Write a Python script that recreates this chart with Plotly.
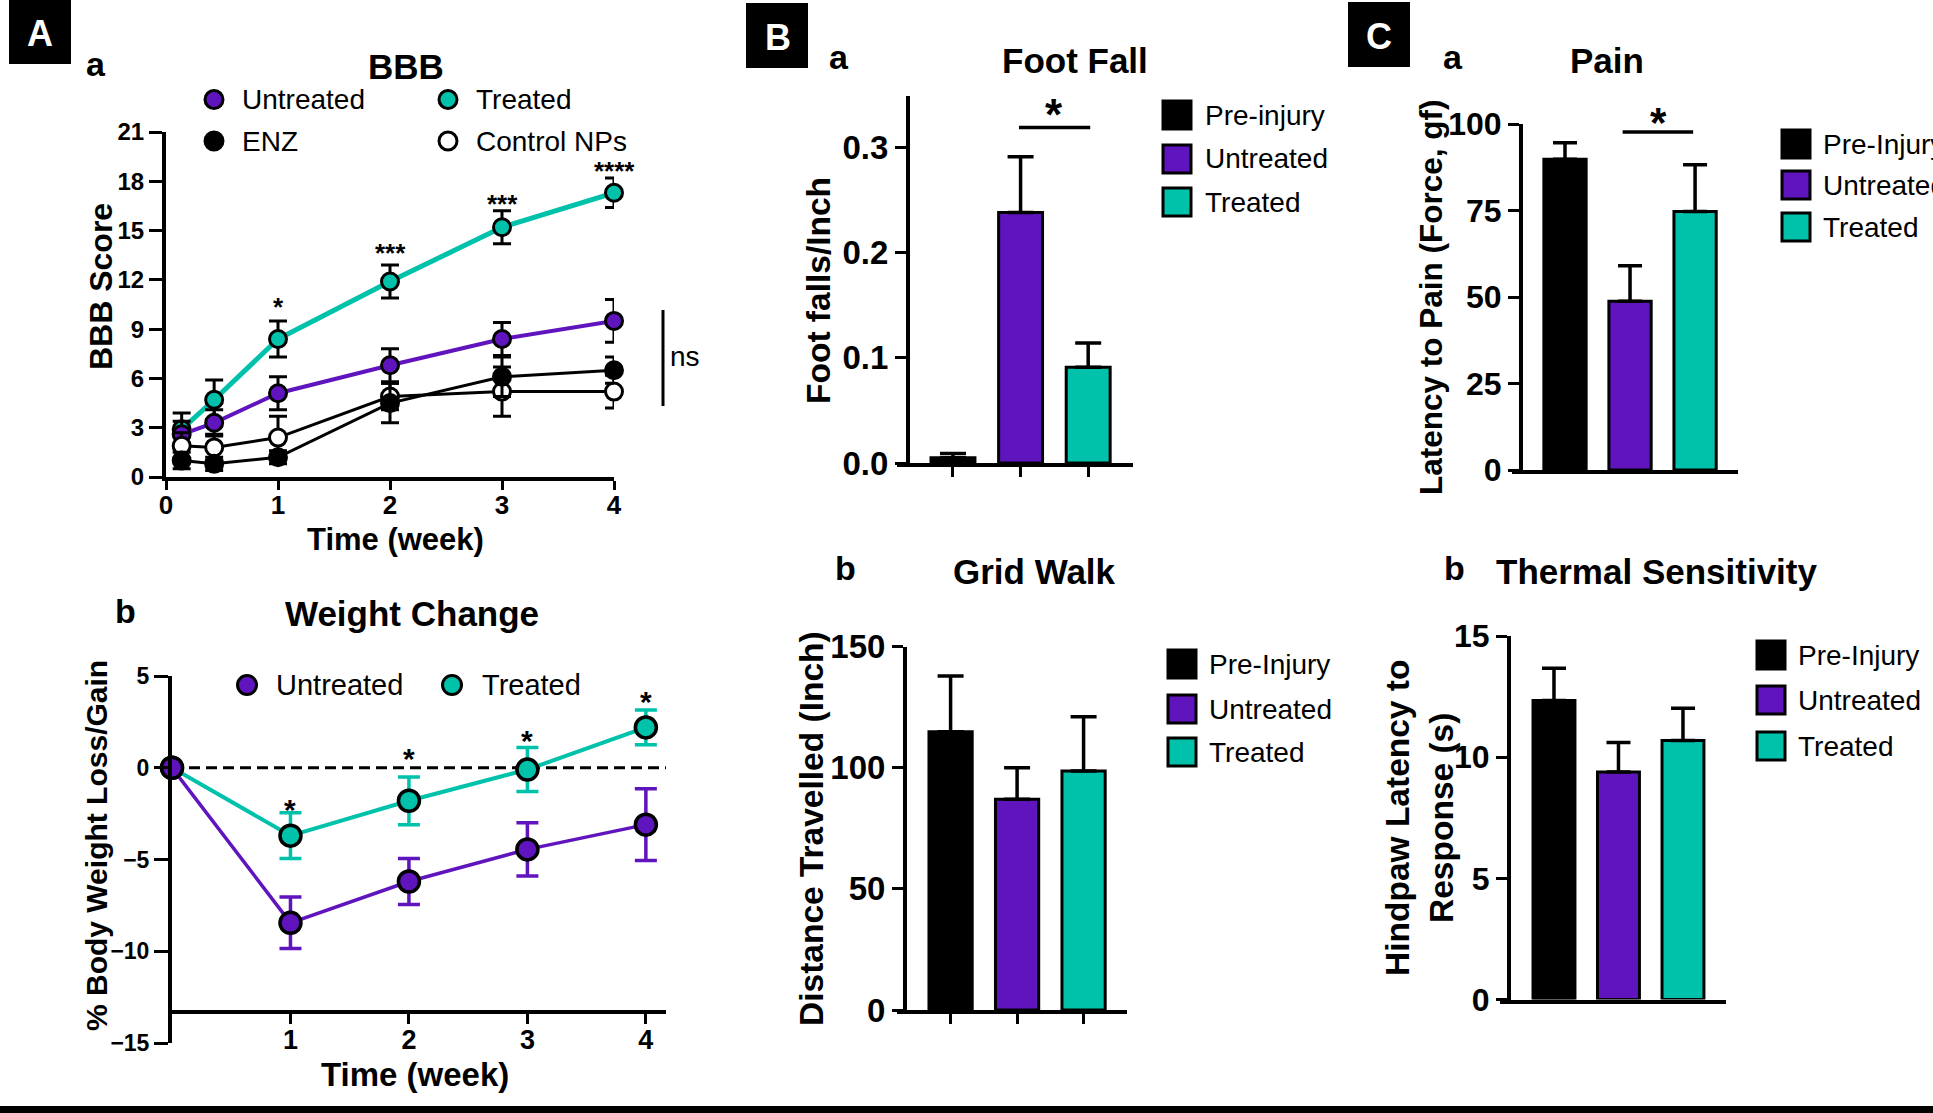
import plotly.graph_objects as go

W, H = 1933, 1113

def px(x):
    return x / W

def py(y):
    return 1 - y / H

PURPLE = "#5F14BD"
TEAL = "#00C2AA"
BLACK = "#000000"
BOLD = "Liberation Sans, Arial, sans-serif"
REG = "Liberation Sans, Arial, sans-serif"

# ---------------- DATA ----------------
# A-a  BBB score
bbb_weeks = [0.14, 0.43, 1, 2, 3, 4]
bbb_treated = [2.9, 4.7, 8.4, 11.9, 15.2, 17.3]
bbb_treated_err = [1.0, 1.2, 1.1, 1.0, 1.0, 0.9]
bbb_untreated = [2.6, 3.3, 5.1, 6.8, 8.4, 9.5]
bbb_untreated_err = [0.8, 0.8, 1.0, 1.0, 1.0, 1.3]
bbb_enz = [1.0, 0.8, 1.2, 4.5, 6.1, 6.5]
bbb_enz_err = [0.5, 0.4, 0.4, 1.2, 1.2, 0.8]
bbb_control = [1.9, 1.8, 2.4, 4.9, 5.2, 5.2]
bbb_control_err = [0.8, 0.8, 1.3, 0.8, 1.5, 1.0]
bbb_star_weeks = [1, 2, 3, 4]
bbb_star_labels = ["*", "***", "***", "****"]
bbb_star_y = [10.7, 14.0, 17.0, 19.0]

# A-b  Weight change
wt_weeks = [0, 1, 2, 3, 4]
wt_untreated = [0, -8.45, -6.2, -4.45, -3.1]
wt_untreated_err = [0, 1.4, 1.25, 1.45, 1.95]
wt_treated = [0, -3.7, -1.8, -0.1, 2.2]
wt_treated_err = [0, 1.25, 1.3, 1.2, 0.95]
wt_star_weeks = [1, 2, 3, 4]
wt_star_y = [-1.9, 0.87, 1.85, 4.0]

# Bar panels
groups_ff = ["Pre-injury", "Untreated", "Treated"]
groups = ["Pre-Injury", "Untreated", "Treated"]
group_colors = [BLACK, PURPLE, TEAL]

footfall = [0.005, 0.238, 0.091]
footfall_err = [0.004, 0.053, 0.023]

gridwalk = [114.9, 87.0, 98.7]
gridwalk_err = [23.0, 13.0, 22.3]

pain = [89.8, 48.8, 74.7]
pain_err = [4.8, 10.2, 13.5]

thermal = [12.34, 9.39, 10.69]
thermal_err = [1.33, 1.22, 1.33]

fig = go.Figure()

# ---------------- BBB ----------------
bbb_series = [
    ("Treated", bbb_treated, bbb_treated_err, TEAL, TEAL, 5),
    ("Untreated", bbb_untreated, bbb_untreated_err, PURPLE, PURPLE, 4),
    ("Control NPs", bbb_control, bbb_control_err, BLACK, "white", 3),
    ("ENZ", bbb_enz, bbb_enz_err, BLACK, BLACK, 3),
]
for name, vals, err, lc, fc, lw in bbb_series:
    fig.add_trace(go.Scatter(
        x=bbb_weeks, y=vals, name=name, mode="lines+markers",
        line=dict(color=lc, width=lw),
        marker=dict(size=17, color=fc, line=dict(color="black", width=3)),
        error_y=dict(type="data", array=err, color="black", thickness=3, width=9),
        cliponaxis=False, showlegend=False, xaxis="x", yaxis="y"))

# ---------------- Weight ----------------
wt_series = [
    ("Treated", wt_treated, wt_treated_err, TEAL, 4),
    ("Untreated", wt_untreated, wt_untreated_err, PURPLE, 3.5),
]
for name, vals, err, c, lw in wt_series:
    fig.add_trace(go.Scatter(
        x=wt_weeks, y=vals, name=name, mode="lines+markers",
        line=dict(color=c, width=lw),
        marker=dict(size=21, color=c, line=dict(color="black", width=3.5)),
        error_y=dict(type="data", array=err, color=c, thickness=3.5, width=11),
        cliponaxis=False, showlegend=False, xaxis="x2", yaxis="y2"))

# ---------------- Bars ----------------
bar_panels = [
    (groups_ff, footfall, footfall_err, "x3", "y3", 13),
    (groups, gridwalk, gridwalk_err, "x4", "y4", 13),
    (groups, pain, pain_err, "x5", "y5", 12),
    (groups, thermal, thermal_err, "x6", "y6", 12),
]
for cats, vals, err, xa, ya, ew in bar_panels:
    fig.add_trace(go.Bar(
        x=cats, y=vals, width=0.65,
        marker=dict(color=group_colors, line=dict(color="black", width=3)),
        error_y=dict(type="data", array=err, arrayminus=[0] * len(err),
                     symmetric=False, color="black", thickness=3.5, width=ew),
        cliponaxis=False, showlegend=False, xaxis=xa, yaxis=ya))

# ---------------- Axes ----------------
def axstyle(size, ticklen=11, **kw):
    d = dict(showline=True, linecolor="black", linewidth=4, ticks="outside",
             tickcolor="black", tickwidth=3, ticklen=ticklen, showgrid=False,
             zeroline=False, fixedrange=True, automargin=False,
             tickfont=dict(family=BOLD, size=size, color="black", weight="bold"))
    d.update(kw)
    return d

layout_axes = dict(
    xaxis=axstyle(26, 9, domain=[px(166), px(614)], range=[0, 4], anchor="y",
                  tickvals=[0, 1, 2, 3, 4], ticklabelstandoff=-7),
    yaxis=axstyle(24, 13, domain=[py(477), py(132)], range=[0, 21], anchor="x",
                  tickvals=list(range(0, 22, 3))),
    xaxis2=axstyle(27, 10, domain=[px(172), px(666)], range=[0, 4.17], anchor="free",
                   position=py(1012), tickvals=[1, 2, 3, 4], ticklabelstandoff=-7),
    yaxis2=axstyle(23, 14, domain=[py(1043), py(676)], range=[-15, 5], anchor="x2",
                   tickvals=[-15, -10, -5, 0, 5]),
    xaxis3=axstyle(10, 10, type="category", domain=[px(897), px(1133)],
                   range=[-0.828, 2.663], anchor="y3", showticklabels=False),
    yaxis3=axstyle(33, 11, domain=[py(463), py(95.7)], range=[0, 0.349], anchor="free",
                   position=px(908), tickvals=[0, 0.1, 0.2, 0.3], tickformat=".1f"),
    xaxis4=axstyle(10, 10, type="category", domain=[px(897), px(1127)],
                   range=[-0.806, 2.653], anchor="y4", showticklabels=False),
    yaxis4=axstyle(33, 11, domain=[py(1010), py(646.6)], range=[0, 150], anchor="free",
                   position=px(905), tickvals=[0, 50, 100, 150]),
    xaxis5=axstyle(10, 0, type="category", domain=[px(1512), px(1738)],
                   range=[-0.815, 2.66], anchor="y5", showticklabels=False, ticks=""),
    yaxis5=axstyle(32, 11, domain=[py(470), py(124)], range=[0, 100], anchor="free",
                   position=px(1521), tickvals=[0, 25, 50, 75, 100]),
    xaxis6=axstyle(10, 0, type="category", domain=[px(1500), px(1726)],
                   range=[-0.837, 2.667], anchor="y6", showticklabels=False, ticks=""),
    yaxis6=axstyle(32, 11, domain=[py(999.6), py(636)], range=[0, 15], anchor="free",
                   position=px(1509), tickvals=[0, 5, 10, 15]),
)

annotations = []
shapes = []

def ann(x, y, text, size, family=BOLD, xanchor="center", angle=0, color="black",
        bold=True, xref="paper", yref="paper", yshift=0):
    annotations.append(dict(
        x=px(x) if xref == "paper" else x, y=py(y) if yref == "paper" else y,
        xref=xref, yref=yref, text=text, showarrow=False, xanchor=xanchor,
        yanchor="middle", textangle=angle, yshift=yshift,
        font=dict(family=family, size=size, color=color,
                  weight="bold" if bold else "normal")))

# Panel letter boxes
for (x0, y0, x1, y1, letter, cx, cy) in [
        (9, 0, 71, 64, "A", 40, 34),
        (746, 3, 808, 68, "B", 778, 37),
        (1348, 2, 1410, 67, "C", 1379, 36)]:
    shapes.append(dict(type="rect", xref="paper", yref="paper",
                       x0=px(x0), x1=px(x1), y0=py(y1), y1=py(y0),
                       fillcolor="black", line=dict(width=0)))
    ann(cx, cy, letter, 36, color="white")

# Sub-panel letters and titles
for (x, y, t) in [(96, 64, "a"), (125, 611, "b"), (839, 57, "a"), (845, 568, "b"),
                  (1453, 57, "a"), (1454, 568, "b")]:
    ann(x, y, t, 34)
for (x, y, t) in [(406, 66, "BBB"), (412, 613, "Weight Change"), (1075, 60, "Foot Fall"),
                  (1034, 571, "Grid Walk"), (1607, 60, "Pain"),
                  (1656, 571, "Thermal Sensitivity")]:
    ann(x, y, t, 35)

# Axis titles
ann(101, 287, "BBB Score", 32, angle=-90)
ann(395, 539, "Time (week)", 31)
ann(96, 846, "% Body Weight Loss/Gain", 30, angle=-90)
ann(415, 1074, "Time (week)", 33)
ann(818, 291, "Foot falls/Inch", 33.5, angle=-90)
ann(811, 829, "Distance Travelled (Inch)", 33.5, angle=-90)
ann(1431, 297, "Latency to Pain (Force, gf)", 31.5, angle=-90)
ann(1419, 818, "Hindpaw Latency to<br>Response (s)", 33.5, angle=-90)

# Significance marks
for xw, lab, yv in zip(bbb_star_weeks, bbb_star_labels, bbb_star_y):
    ann(xw, yv, lab, 26, xref="x", yref="y", yshift=-6)
for xw, yv in zip(wt_star_weeks, wt_star_y):
    ann(xw, yv, "*", 30, xref="x2", yref="y2", yshift=-7)
ann(1.5, 0.3387, "*", 44, xref="x3", yref="y3", yshift=-8)
shapes.append(dict(type="line", xref="x3", yref="y3", x0=0.976, x1=2.03,
                   y0=0.3187, y1=0.3187, line=dict(color="black", width=3.5)))
ann(1658, 122, "*", 42)
shapes.append(dict(type="line", xref="x5", yref="y5", x0=0.886, x1=1.97,
                   y0=97.7, y1=97.7, line=dict(color="black", width=3.5)))

# ns bracket
shapes.append(dict(type="line", xref="paper", yref="paper", x0=px(663), x1=px(663),
                   y0=py(310), y1=py(406), line=dict(color="black", width=3)))
ann(668, 356, "ns", 28, family=REG, xanchor="left", bold=False)

# Weight dashed zero line
shapes.append(dict(type="line", xref="x2", yref="y2", x0=0, x1=4.17, y0=0, y1=0,
                   line=dict(color="black", width=3, dash="11px,6px"), layer="below"))

# Legends (scatter)
def circ_legend(entries, dia, size):
    for (name, fill, cx, cy, tx) in entries:
        r = dia / 2
        shapes.append(dict(type="circle", xref="paper", yref="paper",
                           x0=px(cx - r), x1=px(cx + r), y0=py(cy + r), y1=py(cy - r),
                           fillcolor=fill, line=dict(color="black", width=3)))
        ann(tx, cy, name, size, family=REG, xanchor="left", bold=False)

circ_legend([("Untreated", PURPLE, 214, 99.5, 240), ("Treated", TEAL, 448, 99.5, 474),
             ("ENZ", BLACK, 214, 141, 240), ("Control NPs", "white", 448, 141, 474)],
            18, 28)
circ_legend([("Untreated", PURPLE, 247, 685, 274), ("Treated", TEAL, 452, 685, 480)],
            19, 29)

# Legends (bars)
def sq_legend(names, x_sq, ys, x_text, size, sq=28):
    for name, c, y in zip(names, group_colors, ys):
        shapes.append(dict(type="rect", xref="paper", yref="paper",
                           x0=px(x_sq), x1=px(x_sq + sq), y0=py(y + sq / 2), y1=py(y - sq / 2),
                           fillcolor=c, line=dict(color="black", width=3)))
        ann(x_text, y, name, size, family=REG, xanchor="left", bold=False)

sq_legend(groups_ff, 1163, [115, 159, 202], 1203, 28)
sq_legend(groups, 1168, [664, 709, 752], 1207, 28)
sq_legend(groups, 1782, [144, 185, 227], 1821, 28)
sq_legend(groups, 1757, [655, 700, 746], 1796, 28)

# Bottom rule
shapes.append(dict(type="rect", xref="paper", yref="paper", x0=0, x1=1,
                   y0=0, y1=py(1106), fillcolor="black", line=dict(width=0)))

fig.update_layout(
    template="none",
    width=W, height=H, autosize=False,
    margin=dict(l=0, r=0, t=0, b=0, pad=0, autoexpand=False),
    paper_bgcolor="white", plot_bgcolor="white",
    showlegend=False, annotations=annotations, shapes=shapes,
    **layout_axes)

page_fix = (
    "document.documentElement.style.margin='0';"
    "document.documentElement.style.overflow='hidden';"
    "document.body.style.margin='0';document.body.style.padding='0';"
    "document.body.style.overflow='hidden';"
    "var d=document.getElementById('{plot_id}');"
    "d.style.position='fixed';d.style.left='0px';d.style.top='0px';"
)

fig.write_html("out.html", config={"displayModeBar": False}, post_script=page_fix)
